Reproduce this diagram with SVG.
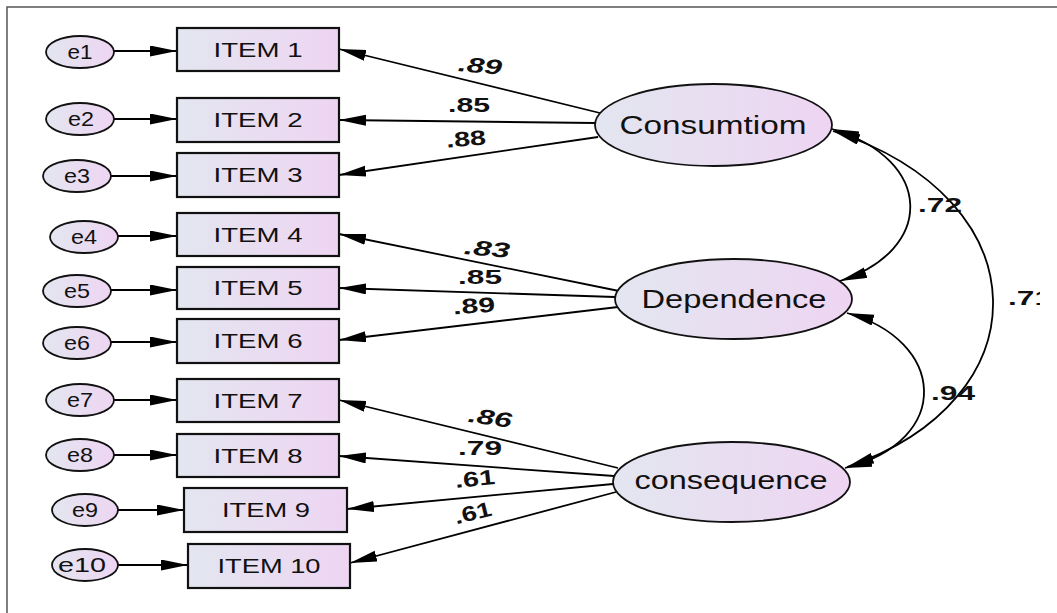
<svg xmlns="http://www.w3.org/2000/svg" width="1057" height="613" viewBox="0 0 1057 613">
<defs>
<linearGradient id="gf" x1="0" y1="0" x2="1" y2="0">
<stop offset="0" stop-color="#e3e6f0"/>
<stop offset="1" stop-color="#eed5f2"/>
</linearGradient>
<marker id="ah" markerUnits="userSpaceOnUse" markerWidth="30" markerHeight="12" refX="27" refY="5.5" orient="auto-start-reverse">
<path d="M0,0 L27,5.5 L0,11 z" fill="#000"/>
</marker>
<clipPath id="clipR"><rect x="0" y="0" width="1040" height="613"/></clipPath>
<style>
.box{fill:url(#gf);stroke:#111;stroke-width:2.2}
.ell{fill:url(#gf);stroke:#111;stroke-width:1.8}
.lbl{font-family:"Liberation Sans",Arial,sans-serif;fill:#111;text-anchor:middle}
.it{font-size:20px}
.er{font-size:21px}
.lat{font-size:26px}
.num{font-family:"Liberation Sans",Arial,sans-serif;font-weight:bold;font-size:21px;fill:#111;text-anchor:middle}
.itl{font-style:italic}
.cn{fill:none;stroke:#000;stroke-width:1.8}
</style>
</defs>
<rect x="0" y="0" width="1057" height="613" fill="#fff"/>
<path d="M7,613 L7,7 L1057,7" fill="none" stroke="#555" stroke-width="1.5"/>

<g id="connectors">
<line class="cn" x1="114" y1="51" x2="177" y2="51" marker-end="url(#ah)"/>
<line class="cn" x1="114" y1="119" x2="177" y2="119" marker-end="url(#ah)"/>
<line class="cn" x1="111" y1="176" x2="177" y2="176" marker-end="url(#ah)"/>
<line class="cn" x1="118" y1="236" x2="177" y2="236" marker-end="url(#ah)"/>
<line class="cn" x1="111" y1="290" x2="177" y2="290" marker-end="url(#ah)"/>
<line class="cn" x1="111" y1="342" x2="177" y2="342" marker-end="url(#ah)"/>
<line class="cn" x1="114" y1="400" x2="177" y2="400" marker-end="url(#ah)"/>
<line class="cn" x1="114" y1="455" x2="177" y2="455" marker-end="url(#ah)"/>
<line class="cn" x1="118" y1="510" x2="184" y2="510" marker-end="url(#ah)"/>
<line class="cn" x1="118" y1="565" x2="188" y2="565" marker-end="url(#ah)"/>

<line class="cn" x1="600" y1="113" x2="339" y2="49" marker-end="url(#ah)"/>
<line class="cn" x1="595" y1="123" x2="339" y2="120" marker-end="url(#ah)"/>
<line class="cn" x1="598" y1="137" x2="339" y2="175" marker-end="url(#ah)"/>
<line class="cn" x1="619" y1="291" x2="339" y2="234" marker-end="url(#ah)"/>
<line class="cn" x1="615" y1="297" x2="339" y2="288" marker-end="url(#ah)"/>
<line class="cn" x1="618" y1="307" x2="339" y2="340" marker-end="url(#ah)"/>
<line class="cn" x1="618" y1="468" x2="339" y2="400" marker-end="url(#ah)"/>
<line class="cn" x1="614" y1="476" x2="339" y2="456" marker-end="url(#ah)"/>
<line class="cn" x1="613" y1="484" x2="347" y2="509" marker-end="url(#ah)"/>
<line class="cn" x1="616" y1="492" x2="350" y2="563" marker-end="url(#ah)"/>

<path class="cn" d="M832,129 C935,160 935,250 840,281" marker-start="url(#ah)" marker-end="url(#ah)"/>
<path class="cn" d="M847,313 C945,340 955,440 845,468" marker-start="url(#ah)" marker-end="url(#ah)"/>
<path class="cn" d="M833,131 C1044,200 1044,400 847,467" marker-start="url(#ah)" marker-end="url(#ah)"/>

<text class="num itl" x="480" y="73" textLength="44" lengthAdjust="spacingAndGlyphs" transform="rotate(5 480 66)">.89</text>
<text class="num" x="469" y="112" textLength="42" lengthAdjust="spacingAndGlyphs">.85</text>
<text class="num" x="466" y="146" textLength="40" lengthAdjust="spacingAndGlyphs" transform="rotate(-5 466 139)">.88</text>
<text class="num itl" x="487" y="256" textLength="46" lengthAdjust="spacingAndGlyphs" transform="rotate(5 487 249)">.83</text>
<text class="num" x="480" y="284" textLength="44" lengthAdjust="spacingAndGlyphs">.85</text>
<text class="num" x="474" y="313" textLength="42" lengthAdjust="spacingAndGlyphs" transform="rotate(-4 474 306)">.89</text>
<text class="num itl" x="490" y="425" textLength="44" lengthAdjust="spacingAndGlyphs" transform="rotate(8 490 418)">.86</text>
<text class="num" x="480" y="455" textLength="44" lengthAdjust="spacingAndGlyphs">.79</text>
<text class="num" x="475" y="486" textLength="40" lengthAdjust="spacingAndGlyphs" transform="rotate(-6 475 479)">.61</text>
<text class="num" x="473" y="520" textLength="38" lengthAdjust="spacingAndGlyphs" transform="rotate(-14 473 513)">.61</text>
<text class="num" x="940" y="212" textLength="44" lengthAdjust="spacingAndGlyphs">.72</text>
<text class="num" x="953" y="400" textLength="44" lengthAdjust="spacingAndGlyphs">.94</text>
<g clip-path="url(#clipR)">
<text class="num" x="1030" y="305" textLength="44" lengthAdjust="spacingAndGlyphs">.71</text>
</g>
</g>

<g id="e1"><ellipse class="ell" cx="80" cy="52" rx="34" ry="16"/><text class="lbl er" x="80" y="59" textLength="25" lengthAdjust="spacingAndGlyphs">e1</text></g>
<g id="e2"><ellipse class="ell" cx="80" cy="119" rx="34" ry="16"/><text class="lbl er" x="81" y="126" textLength="26" lengthAdjust="spacingAndGlyphs">e2</text></g>
<g id="e3"><ellipse class="ell" cx="77" cy="176" rx="34" ry="16"/><text class="lbl er" x="77" y="183" textLength="26" lengthAdjust="spacingAndGlyphs">e3</text></g>
<g id="e4"><ellipse class="ell" cx="84" cy="237" rx="34" ry="16"/><text class="lbl er" x="84" y="244" textLength="26" lengthAdjust="spacingAndGlyphs">e4</text></g>
<g id="e5"><ellipse class="ell" cx="77" cy="291" rx="34" ry="16"/><text class="lbl er" x="77" y="298" textLength="26" lengthAdjust="spacingAndGlyphs">e5</text></g>
<g id="e6"><ellipse class="ell" cx="77" cy="343" rx="34" ry="16"/><text class="lbl er" x="77" y="350" textLength="26" lengthAdjust="spacingAndGlyphs">e6</text></g>
<g id="e7"><ellipse class="ell" cx="80" cy="400" rx="34" ry="16"/><text class="lbl er" x="80" y="407" textLength="26" lengthAdjust="spacingAndGlyphs">e7</text></g>
<g id="e8"><ellipse class="ell" cx="80" cy="455" rx="34" ry="16"/><text class="lbl er" x="80" y="462" textLength="26" lengthAdjust="spacingAndGlyphs">e8</text></g>
<g id="e9"><ellipse class="ell" cx="85" cy="510" rx="33" ry="16"/><text class="lbl er" x="85" y="517" textLength="26" lengthAdjust="spacingAndGlyphs">e9</text></g>
<g id="e10"><ellipse class="ell" cx="85" cy="565" rx="33" ry="16"/><text class="lbl er" x="82" y="572" textLength="48" lengthAdjust="spacingAndGlyphs">e10</text></g>

<g id="item1"><rect class="box" x="177" y="28" width="162" height="43"/><text class="lbl it" x="258" y="57" textLength="89" lengthAdjust="spacingAndGlyphs">ITEM 1</text></g>
<g id="item2"><rect class="box" x="177" y="98" width="162" height="44"/><text class="lbl it" x="258" y="127" textLength="89" lengthAdjust="spacingAndGlyphs">ITEM 2</text></g>
<g id="item3"><rect class="box" x="177" y="153" width="162" height="44"/><text class="lbl it" x="258" y="182" textLength="89" lengthAdjust="spacingAndGlyphs">ITEM 3</text></g>
<g id="item4"><rect class="box" x="177" y="213" width="162" height="43"/><text class="lbl it" x="258" y="242" textLength="89" lengthAdjust="spacingAndGlyphs">ITEM 4</text></g>
<g id="item5"><rect class="box" x="177" y="267" width="162" height="42"/><text class="lbl it" x="258" y="295" textLength="89" lengthAdjust="spacingAndGlyphs">ITEM 5</text></g>
<g id="item6"><rect class="box" x="177" y="319" width="162" height="44"/><text class="lbl it" x="258" y="348" textLength="89" lengthAdjust="spacingAndGlyphs">ITEM 6</text></g>
<g id="item7"><rect class="box" x="177" y="379" width="162" height="43"/><text class="lbl it" x="258" y="408" textLength="89" lengthAdjust="spacingAndGlyphs">ITEM 7</text></g>
<g id="item8"><rect class="box" x="177" y="434" width="162" height="43"/><text class="lbl it" x="258" y="463" textLength="89" lengthAdjust="spacingAndGlyphs">ITEM 8</text></g>
<g id="item9"><rect class="box" x="184" y="488" width="163" height="44"/><text class="lbl it" x="266" y="517" textLength="88" lengthAdjust="spacingAndGlyphs">ITEM 9</text></g>
<g id="item10"><rect class="box" x="188" y="544" width="162" height="44"/><text class="lbl it" x="269" y="573" textLength="103" lengthAdjust="spacingAndGlyphs">ITEM 10</text></g>

<g id="consumtiom"><ellipse class="ell" cx="713.5" cy="125" rx="118.5" ry="41"/><text class="lbl lat" x="713" y="134" textLength="187" lengthAdjust="spacingAndGlyphs">Consumtiom</text></g>
<g id="dependence"><ellipse class="ell" cx="733.5" cy="299" rx="118.5" ry="40"/><text class="lbl lat" x="734" y="308" textLength="185" lengthAdjust="spacingAndGlyphs">Dependence</text></g>
<g id="consequence"><ellipse class="ell" cx="731.5" cy="482" rx="118.5" ry="40"/><text class="lbl lat" x="731" y="489" textLength="193" lengthAdjust="spacingAndGlyphs">consequence</text></g>
</svg>
